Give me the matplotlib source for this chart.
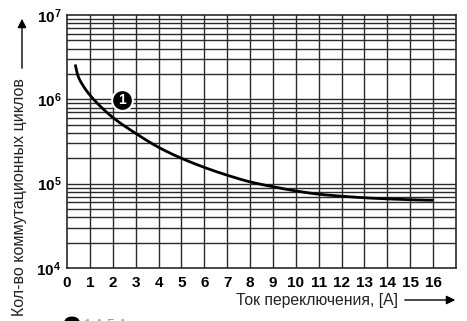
import matplotlib
matplotlib.use("Agg")
import matplotlib.pyplot as plt
import numpy as np
from matplotlib.patches import Circle, FancyArrowPatch

current = [0.36, 0.47, 0.69, 0.97, 1.27, 2, 3, 4, 5, 6, 7, 8, 9, 10, 11, 12, 13, 14, 15, 16]
cycles = [2.59e6, 1.93e6, 1.47e6, 1.15e6, 9.3e5, 6.1e5, 3.95e5, 2.7e5, 2.0e5, 1.56e5, 1.26e5, 1.05e5,
          9.2e4, 8.2e4, 7.5e4, 7.1e4, 6.8e4, 6.6e4, 6.45e4, 6.35e4]
x_ticks = list(range(0, 17))
y_ticks = [1e4, 1e5, 1e6, 1e7]
y_tick_labels = [r'$\mathbf{10^{4}}$', r'$\mathbf{10^{5}}$', r'$\mathbf{10^{6}}$', r'$\mathbf{10^{7}}$']
label_pos = (2.42, 9.8e5)

plt.rcParams['font.family'] = ['Liberation Sans', 'DejaVu Sans']
plt.rcParams['mathtext.fontset'] = 'custom'
plt.rcParams['mathtext.rm'] = 'Liberation Sans'
plt.rcParams['mathtext.bf'] = 'Liberation Sans:bold'

fig = plt.figure(figsize=(4.67, 3.21), dpi=100)
ax = fig.add_axes([67/467, 1-268/321, (456-67)/467, (268-15)/321])
ax.set_yscale('log')
ax.set_xlim(0, 17)
ax.set_ylim(1e4, 1e7)

gc = '#2a2a2a'
for xv in range(1, 17):
    ax.axvline(xv, color=gc, lw=1.0, zorder=1)
for dec in [1e4, 1e5, 1e6]:
    for m in range(1, 10):
        v = dec * m
        if v <= 1e4:
            continue
        ax.axhline(v, color=gc, lw=1.0, zorder=1)
for s in ax.spines.values():
    s.set_color(gc)
    s.set_linewidth(1.2)

def pchip(x, y, xn):
    h = np.diff(x)
    d = np.diff(y) / h
    m = np.zeros_like(y)
    for k in range(1, len(y)-1):
        if d[k-1]*d[k] > 0:
            w1 = 2*h[k] + h[k-1]
            w2 = h[k] + 2*h[k-1]
            m[k] = (w1 + w2) / (w1/d[k-1] + w2/d[k])
    m[0] = d[0]; m[-1] = d[-1]
    out = np.empty_like(xn)
    idx = np.clip(np.searchsorted(x, xn) - 1, 0, len(x)-2)
    for i, (xx, k) in enumerate(zip(xn, idx)):
        t = (xx - x[k]) / h[k]
        h00 = 2*t**3 - 3*t**2 + 1
        h10 = t**3 - 2*t**2 + t
        h01 = -2*t**3 + 3*t**2
        h11 = t**3 - t**2
        out[i] = h00*y[k] + h10*h[k]*m[k] + h01*y[k+1] + h11*h[k]*m[k+1]
    return out

xs = np.array(current)
ys = np.log10(cycles)
xf = np.linspace(xs[0], xs[-1], 500)
yf = 10**pchip(xs, ys, xf)
ax.plot(xf, yf, color='black', lw=2.0, zorder=3, solid_capstyle='butt')

ax.plot([label_pos[0]], [label_pos[1]], 'o', ms=15, color='black', mec='white', mew=1.5, zorder=4)
ax.text(label_pos[0], label_pos[1], '1', color='white', fontsize=10, fontweight='bold',
        ha='center', va='center', zorder=5)

ax.set_xticks(x_ticks)
ax.set_xticklabels([str(v) for v in x_ticks], fontsize=11, fontweight='bold')
ax.set_yticks(y_ticks)
ax.set_yticklabels(y_tick_labels, fontsize=11)
ax.yaxis.set_minor_locator(matplotlib.ticker.NullLocator())
ax.tick_params(length=0, pad=6)
ax.tick_params(axis='y', pad=4)

# y axis label with arrow
fig.text(20/467, 1-197/321, 'Кол-во коммутационных циклов', rotation=90,
         ha='center', va='center', fontsize=11.5, color='#222222')
fig.add_artist(FancyArrowPatch((22/467, 1-71/321), (22/467, 1-16/321),
               transform=fig.transFigure, arrowstyle='-|>', mutation_scale=13, color='black', lw=1))

# x axis label with arrow
fig.text(398/467, 1-300/321, 'Ток переключения, [А]', ha='right', va='center',
         fontsize=11.3, color='#222222')
fig.add_artist(FancyArrowPatch((402/467, 1-300/321), (458/467, 1-300/321),
               transform=fig.transFigure, arrowstyle='-|>', mutation_scale=13, color='black', lw=1))

# partially cut legend at bottom
fig.add_artist(Circle((72/467, 1-322/321), 7/467, transform=fig.transFigure, color='black', clip_on=False))
fig.text(84/467, 1-325/321, '1 A 5 A', fontsize=10, color='#999999', va='center', ha='left')

fig.savefig('out.png', dpi=100)
